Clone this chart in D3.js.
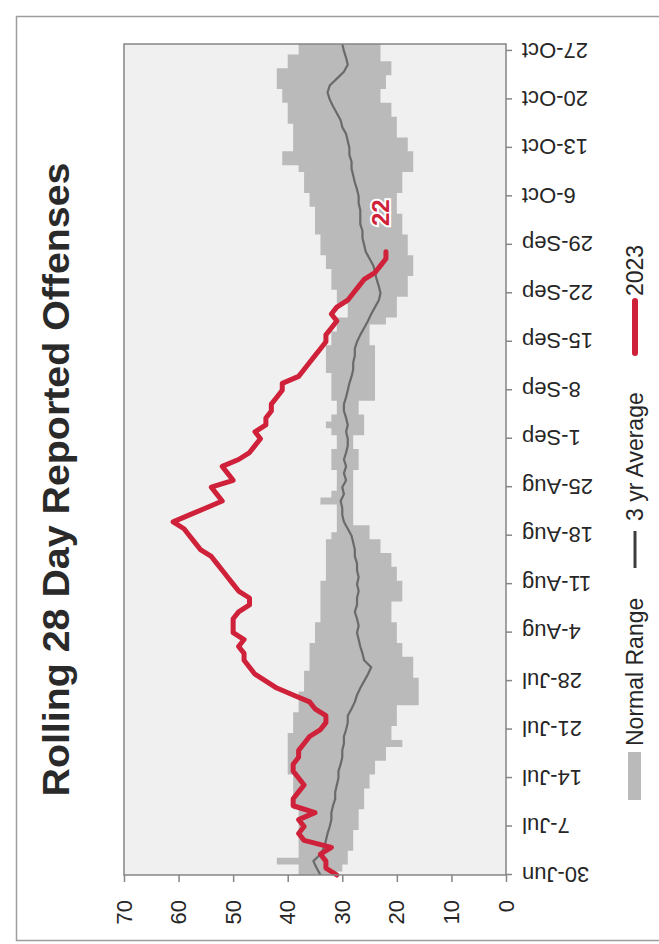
<!DOCTYPE html>
<html><head><meta charset="utf-8">
<script src="https://cdn.jsdelivr.net/npm/d3@7"></script>
<style>html,body{margin:0;padding:0;background:#fff;}svg{display:block;}</style>
</head><body>
<svg id="chart" width="659" height="944"></svg>
<script>
// ---------------- DATA ----------------
const chartTitle = "Rolling 28 Day Reported Offenses";
const startDate = "2023-06-30";   // first day of the series
const endDate = "2023-10-28";     // end of the date axis
const tickLabels = ["30-Jun","7-Jul","14-Jul","21-Jul","28-Jul","4-Aug","11-Aug","18-Aug","25-Aug","1-Sep","8-Sep","15-Sep","22-Sep","29-Sep","6-Oct","13-Oct","20-Oct","27-Oct"];
const valueTicks = [0,10,20,30,40,50,60,70];
const legendLabels = ["Normal Range","3 yr Average","2023"];

// Normal range (daily) : lower and upper bound
const rangeLow = [31,30,29,29,28,28,28,27,27,27,
  26,26,26,25,25,24,24,22,22,19,
  21,21,20,20,20,16,16,16,16,17,
  17,17,19,19,20,20,20,21,21,21,
  19,19,19,20,20,21,21,23,23,25,
  25,28,28,28,28,28,28,28,28,27,
  27,27,28,28,26,26,26,27,27,24,
  24,24,24,24,24,24,24,25,25,25,
  22,20,20,20,18,18,18,17,17,17,
  18,18,18,19,19,19,20,20,20,19,
  19,19,17,17,17,18,18,20,20,20,
  21,21,23,23,22,22,21,21,23,23,23];
const rangeHigh = [38,38,42,38,38,38,38,38,38,38,
  39,39,39,39,39,40,40,40,40,40,
  40,39,39,39,38,38,38,37,37,37,
  36,36,36,36,35,35,35,34,34,34,
  34,34,34,33,33,33,33,33,33,32,
  31,31,31,31,34,32,31,31,31,32,
  32,32,31,31,32,33,32,31,31,32,
  32,32,32,33,33,33,33,32,32,31,
  31,29,29,31,31,32,32,32,33,33,
  34,34,34,35,35,35,35,36,36,37,
  37,37,38,41,41,39,39,39,39,40,
  40,40,41,41,42,42,42,40,40,38,38];
// 3 year average (daily)
const avg3yr = [34,34.7,35.3,34,33.3,33,32.7,32.3,32,32,
  31.7,31.3,31.3,31,30.7,30.7,30.3,30,30,29.7,
  29.7,29.3,29,29,28.3,27.7,27.3,26.7,26,25.3,
  24.7,26,26.3,26.7,27,27.3,27,27.3,27.7,27.3,
  27.3,27,27.3,27,27.3,27.3,27.7,27.7,28,28.3,
  29,29.7,30,30,30.3,29.7,30,29.3,29.7,29.3,
  29.7,29.3,29,29,29.3,29,29.3,29.7,29.7,29.3,
  29,28.7,28.3,28,28,27.7,27.7,27.3,26.7,26,
  25.3,24.7,24,23.3,23,23.3,23.7,24,24.3,25,
  25.7,26,26.3,26.3,26.7,26.7,26.7,27,27,27.3,
  27.7,28,28.3,28.3,28.7,28.7,29,29.3,30,30.3,
  31,31.7,32.3,32.7,32.3,31,29.7,29,29.3,29.7,30];
// 2023 (daily)
const y2023 = [31,33,33,34,32,37,38,37,38,35,
  39,39,38,37,38,39,39,38,38,37,
  36,34,33,33,35,36,39,42,44,46,
  47,48,48,49,48,50,50,50,49,47,
  47,49,50,51,52,53,54,56,57,58,
  59,61,58,55,52,53,54,50,51,52,
  49,47,46,45,46,44,44,43,43,42,
  41,41,38,37,36,35,34,33,33,32,
  31,32,31,29,28,27,26,24,23,22,22];
const lastLabel = "22";

// ---------------- LAYOUT (landscape frame, rotated onto the page) ----------------
const PAGE_H = 944;
const svg = d3.select("#chart");
const RED = "#cf2139", BAND = "#bababa", AVG = "#6a6a6a", AXIS = "#858585", TXT = "#262626";
const FONT = "'Liberation Sans', Arial, sans-serif";

// outer frame
svg.append("rect").attr("x",16.5).attr("y",16.5).attr("width",700).attr("height",924)
  .attr("fill","#fff").attr("stroke","#9d9d9d").attr("stroke-width",1.5);

const g = svg.append("g").attr("transform",`translate(0,${PAGE_H}) rotate(-90)`);

const parse = d3.timeParse("%Y-%m-%d");
const t0 = parse(startDate), t1 = parse(endDate);
const dates = d3.timeDay.range(t0, d3.timeDay.offset(t0, avg3yr.length));
const tickDates = tickLabels.map(s => { const d = d3.timeParse("%d-%b")(s); d.setFullYear(2023); return d; });

const plot = {left:69, right:900, top:124, bottom:506};
const x = d3.scaleTime().domain([t0, t1]).range([plot.left, plot.right]);
const y = d3.scaleLinear().domain([0,70]).range([plot.bottom, plot.top]);

g.append("rect").attr("x",plot.left).attr("y",plot.top)
  .attr("width",plot.right-plot.left).attr("height",plot.bottom-plot.top)
  .attr("fill","#f0f0f0");

g.append("clipPath").attr("id","clip").append("rect")
  .attr("x",plot.left).attr("y",plot.top).attr("width",plot.right-plot.left).attr("height",plot.bottom-plot.top);

const band = dates.map((d,i)=>({date:d, low:rangeLow[i], high:rangeHigh[i]}));
g.append("path").datum(band).attr("clip-path","url(#clip)")
  .attr("fill",BAND)
  .attr("d", d3.area().x(d=>x(d.date)).y0(d=>y(d.low)).y1(d=>y(d.high)).curve(d3.curveStep));

g.append("path").datum(dates.map((d,i)=>({date:d,v:avg3yr[i]}))).attr("clip-path","url(#clip)")
  .attr("fill","none").attr("stroke",AVG).attr("stroke-width",2.2).attr("stroke-linejoin","round")
  .attr("d", d3.line().x(d=>x(d.date)).y(d=>y(d.v)));

const redData = y2023.map((v,i)=>({date:dates[i], v}));
g.append("path").datum(redData)
  .attr("fill","none").attr("stroke",RED).attr("stroke-width",5)
  .attr("stroke-linejoin","round").attr("stroke-linecap","round")
  .attr("d", d3.line().x(d=>x(d.date)).y(d=>y(d.v)));

const last = redData[redData.length-1];
g.append("text").attr("x", x(last.date)+39).attr("y", y(last.v)-6)
  .attr("text-anchor","middle").attr("dy","0.36em")
  .attr("font-family",FONT).attr("font-weight","bold").attr("font-size",24)
  .attr("fill",RED).attr("stroke","#fff").attr("stroke-width",4).attr("paint-order","stroke")
  .text(lastLabel);

// plot border
g.append("rect").attr("x",plot.left).attr("y",plot.top)
  .attr("width",plot.right-plot.left).attr("height",plot.bottom-plot.top)
  .attr("fill","none").attr("stroke",AXIS).attr("stroke-width",1.5);

// value axis (left in landscape frame)
const ya = g.append("g").attr("transform",`translate(${plot.left},0)`)
  .call(d3.axisLeft(y).tickValues(valueTicks).tickSize(7).tickSizeOuter(0).tickPadding(18));
ya.select(".domain").remove();
ya.selectAll("line").attr("stroke",AXIS).attr("stroke-width",1.5);
ya.selectAll("text").attr("font-family",FONT).attr("font-size",22).attr("fill",TXT);

// date axis (bottom in landscape frame)
const xa = g.append("g").attr("transform",`translate(0,${plot.bottom})`)
  .call(d3.axisBottom(x).tickValues(tickDates).tickSize(6).tickSizeOuter(0).tickFormat((d,i)=>tickLabels[i]));
xa.select(".domain").remove();
xa.selectAll("line").attr("stroke",AXIS).attr("stroke-width",1.5);
xa.selectAll("text").attr("x",0).attr("y",0).attr("dy","0.36em")
  .attr("transform","translate(0,16) rotate(-90)").attr("text-anchor","end")
  .attr("font-family",FONT).attr("font-size",22).attr("fill",TXT);

// title
g.append("text").attr("x",(plot.left+plot.right)/2 - 20).attr("y",69)
  .attr("text-anchor","middle").attr("font-family",FONT).attr("font-weight","bold")
  .attr("font-size",37).attr("fill","#2a2a2a")
  .attr("textLength",634).attr("lengthAdjust","spacingAndGlyphs")
  .text(chartTitle);

// legend
const leg = g.append("g");
leg.append("rect").attr("x",144).attr("y",628).attr("width",48).attr("height",13).attr("fill",BAND);
leg.append("text").attr("x",198).attr("y",643).attr("font-family",FONT).attr("font-size",23).attr("fill",TXT).text(legendLabels[0]);
leg.append("line").attr("x1",376).attr("x2",413).attr("y1",635).attr("y2",635).attr("stroke","#3d3d3d").attr("stroke-width",3);
leg.append("text").attr("x",423).attr("y",643).attr("font-family",FONT).attr("font-size",23).attr("fill",TXT).text(legendLabels[1]);
leg.append("line").attr("x1",591).attr("x2",643).attr("y1",635).attr("y2",635).attr("stroke",RED).attr("stroke-width",6).attr("stroke-linecap","round");
leg.append("text").attr("x",648).attr("y",643).attr("font-family",FONT).attr("font-size",23).attr("fill",TXT).text(legendLabels[2]);
</script>
</body></html>
